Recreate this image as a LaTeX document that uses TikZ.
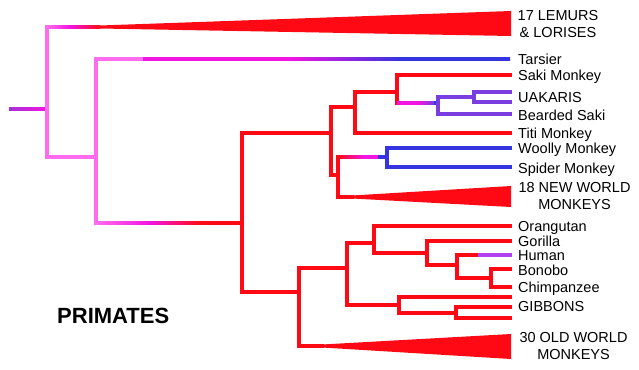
\documentclass[tikz,border=0pt]{standalone}
\usepackage{fontspec}
\setmainfont{Liberation Sans}
\usetikzlibrary{calc}
\definecolor{rd}{HTML}{FF0A14}
\definecolor{pk}{HTML}{FF6CEE}
\definecolor{mg}{HTML}{F214E0}
\definecolor{pu}{HTML}{7A3EE0}
\definecolor{bl}{HTML}{3434E0}
\definecolor{hu}{HTML}{B040F0}
\definecolor{rp}{HTML}{A830D8}
\tikzset{
  br/.style={line width=3.3pt, line cap=rect, line join=miter, draw=rd},
  pkline/.style={br, draw=pk},
  puline/.style={br, draw=pu},
  blline/.style={br, draw=bl},
  lbl/.style={font=\fontsize{14.5}{17}\selectfont, inner sep=0pt, anchor=base west},
  lbl2/.style={font=\fontsize{14.5}{17}\selectfont, inner sep=0pt, align=center, anchor=center},
  wedge/.style={fill=rd, draw=none}
}
\newcommand{\hgrad}[4]{\shade[left color=#3, right color=#4] ($(#1)+(0,-1.5)$) rectangle ($(#2)+(0,1.5)$);}
\begin{document}
\begin{tikzpicture}[x=1pt,y=-1pt]
\useasboundingbox (0,0) rectangle (639,369);
% coordinates
\coordinate (root) at (9,109);
\coordinate (n0) at (47,109);
\coordinate (la) at (100,27);
\coordinate (n1) at (96,157);
\coordinate (tar) at (510,59);
\coordinate (n2) at (242,223);
\coordinate (n3) at (331,133);
\coordinate (n4) at (355,107);
\coordinate (n5) at (397,92);
\coordinate (saki) at (510,75);
\coordinate (n6) at (438,103);
\coordinate (n7) at (474,97);
\coordinate (uak1) at (510,92);
\coordinate (uak2) at (510,102);
\coordinate (bearded) at (510,114);
\coordinate (titi) at (510,133);
\coordinate (n8) at (338,175);
\coordinate (n9) at (387,157);
\coordinate (woolly) at (510,148);
\coordinate (spider) at (510,167);
\coordinate (nwa) at (352,197);
\coordinate (n10) at (299,292);
\coordinate (owa) at (322,346);
\coordinate (n11) at (347,268);
\coordinate (n12) at (374,243);
\coordinate (orang) at (510,226);
\coordinate (n13) at (427,253);
\coordinate (gorilla) at (510,241);
\coordinate (n14) at (457,265);
\coordinate (human) at (510,255);
\coordinate (hred) at (478,255);
\coordinate (n15) at (491,278);
\coordinate (bonobo) at (510,269);
\coordinate (chimp) at (510,287);
\coordinate (n16) at (399,305);
\coordinate (gib1) at (510,297);
\coordinate (n17) at (456,313);
\coordinate (gib2) at (510,307);
\coordinate (gib3) at (510,318);
% root stem
\hgrad{root}{n0}{rp}{mg}
% pink verticals and links
\draw[pkline] (n0|-la) -- (n0|-n1) -- (n1);
\draw[pkline] (n1|-tar) -- (n1|-n2);
% lemurs branch
\hgrad{n0|-la}{70,27}{pk}{mg}
\hgrad{70,27}{la}{mg}{rd}
\fill[wedge] ($(la)+(0,-1.5)$) -- (511,11) -- (511,36) -- ($(la)+(0,1.5)$) -- cycle;
% tarsier branch
\hgrad{n1|-tar}{143,59}{pk}{pk}
\hgrad{143,59}{290,59}{mg}{mg}
\hgrad{290,59}{400,59}{mg}{bl}
\hgrad{400,59}{tar}{bl}{bl}
% anthropoid branch
\hgrad{n1|-n2}{150,223}{pk}{mg}
\hgrad{150,223}{200,223}{mg}{rd}
\hgrad{200,223}{n2}{rd}{rd}
% new world
\draw[br] (n2) |- (n3);
\draw[br] (n2) |- (n10);
\draw[br] (n3) |- (n4);
\draw[br] (n3) |- (n8);
\draw[br] (n4) |- (n5);
\draw[br] (n4) |- (titi);
\draw[br] (n5) |- (saki);
\draw[br] (n5) -- (n5|-n6);
\hgrad{n5|-n6}{418,103}{mg}{mg}
\hgrad{418,103}{434,103}{mg}{pu}
\hgrad{434,103}{n6}{bl}{bl}
\draw[puline] (n6) |- (n7);
\draw[puline] (n6) |- (bearded);
\draw[puline] (n7) |- (uak1);
\draw[puline] (n7) |- (uak2);
\draw[br] (n8) -- (n8|-n9);
\draw[br] (n8) |- (nwa);
\hgrad{n8|-n9}{363,157}{rd}{mg}
\hgrad{363,157}{378,157}{mg}{mg}
\hgrad{378,157}{n9}{bl}{bl}
\draw[blline] (n9) |- (woolly);
\draw[blline] (n9) |- (spider);
\fill[wedge] ($(nwa)+(0,-1.5)$) -- (511,186) -- (511,207) -- ($(nwa)+(0,1.5)$) -- cycle;
% old world
\draw[br] (n10) |- (n11);
\draw[br] (n10) |- (owa);
\fill[wedge] ($(owa)+(0,-1.5)$) -- (511,334) -- (511,359) -- ($(owa)+(0,1.5)$) -- cycle;
\draw[br] (n11) |- (n12);
\draw[br] (n11) |- (n16);
\draw[br] (n12) |- (orang);
\draw[br] (n12) |- (n13);
\draw[br] (n13) |- (gorilla);
\draw[br] (n13) |- (n14);
\draw[br] (n14) |- (hred);
\draw[br, draw=hu, line cap=butt] (hred) -- ($(human)+(1.6,0)$);
\draw[br] (n14) |- (n15);
\draw[br] (n15) |- (bonobo);
\draw[br] (n15) |- (chimp);
\draw[br] (n16) |- (gib1);
\draw[br] (n16) |- (n17);
\draw[br] (n17) |- (gib2);
\draw[br] (n17) |- (gib3);
% labels
\node[lbl2] (tlem) at (558,24.5) {17 LEMURS\\\& LORISES};
\node[lbl] (ttar) at (518,64) {Tarsier};
\node[lbl] (tsaki) at (518,80) {Saki Monkey};
\node[lbl] (tuak) at (518,102) {UAKARIS};
\node[lbl] (tbear) at (518,120) {Bearded Saki};
\node[lbl] (ttiti) at (518,138) {Titi Monkey};
\node[lbl] (twool) at (518,153.5) {Woolly Monkey};
\node[lbl] (tspid) at (518,173) {Spider Monkey};
\node[lbl2] (tnw) at (574.5,196.5) {18 NEW WORLD\\MONKEYS};
\node[lbl] (torang) at (518,231) {Orangutan};
\node[lbl] (tgor) at (518,246) {Gorilla};
\node[lbl] (thum) at (518,260) {Human};
\node[lbl] (tbon) at (518,275) {Bonobo};
\node[lbl] (tchimp) at (518,292) {Chimpanzee};
\node[lbl] (tgib) at (518,311) {GIBBONS};
\node[lbl2] (tow) at (573.5,346.5) {30 OLD WORLD\\MONKEYS};
\node[font=\fontsize{22}{24}\selectfont\bfseries, inner sep=0pt, anchor=base west] (prim) at (57,323) {PRIMATES};
\end{tikzpicture}
\end{document}
